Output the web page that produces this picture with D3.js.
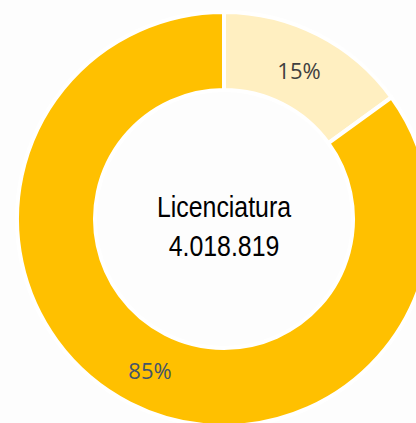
<!DOCTYPE html>
<html>
<head>
<meta charset="utf-8">
<script src="https://cdn.jsdelivr.net/npm/d3@7"></script>
<style>
  html, body { margin: 0; padding: 0; background: #fdfdfd; overflow: hidden; }
</style>
</head>
<body>
<script>
"use strict"
// donut: share of "Licenciatura", values in percent
const shares = [15, 85];
const colors = ['#FFEFC1', '#FFC000'];
const labelColors = ['#404040', '#44546A'];
const centerTitle = 'Licenciatura';
const centerValue = '4.018.819';

const w = 416;
const h = 423;
const cx = 224, cy = 219;
const rOuter = 207, rInner = 129;

const svg = d3.select('body')
	.append('svg')
	.attr('width', w)
	.attr('height', h);

svg.append('rect')
	.attr('width', w)
	.attr('height', h)
	.attr('fill', '#fdfdfd');

const g = svg.append('g')
	.attr('transform', 'translate(' + cx + ',' + cy + ')');

const pie = d3.pie().sort(null).value(d => d);
const arcs = pie(shares);

const arc = d3.arc()
	.innerRadius(rInner)
	.outerRadius(rOuter);

g.selectAll('path')
	.data(arcs)
	.enter()
	.append('path')
	.attr('d', arc)
	.attr('fill', (d, i) => colors[i])
	.attr('stroke', '#ffffff')
	.attr('stroke-width', 4);

// percent labels (placed like the original, not at the arc centroid)
const labelPos = [[75, -149], [-74, 151]];

g.selectAll('text.pct')
	.data(arcs)
	.enter()
	.append('text')
	.attr('class', 'pct')
	.attr('x', (d, i) => labelPos[i][0])
	.attr('y', (d, i) => labelPos[i][1])
	.attr('text-anchor', 'middle')
	.attr('dominant-baseline', 'central')
	.style('font-family', '"Open Sans", "Noto Sans", sans-serif')
	.style('font-size', '22px')
	.attr('fill', (d, i) => labelColors[i])
	.text(d => d.data + '%');

// center text, squeezed to look like a narrow face
const center = g.append('g')
	.attr('transform', 'scale(0.83,1)')
	.append('text')
	.attr('text-anchor', 'middle')
	.style('font-family', '"Liberation Sans Narrow", "Liberation Sans", Arial, sans-serif')
	.style('font-size', '30px')
	.attr('fill', '#000');

center.append('tspan')
	.attr('x', 0)
	.attr('y', -2)
	.text(centerTitle);

center.append('tspan')
	.attr('x', 0)
	.attr('y', 37)
	.text(centerValue);
</script>
</body>
</html>
